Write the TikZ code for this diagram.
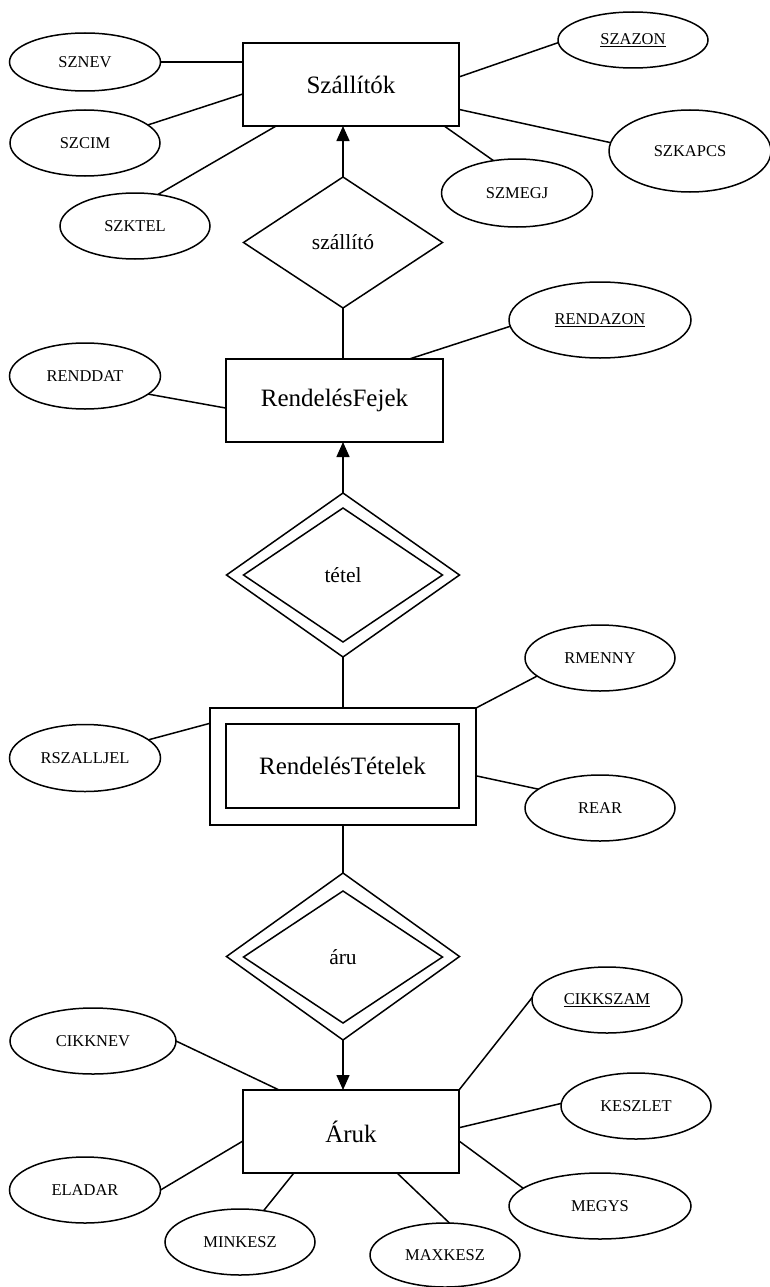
\documentclass[tikz,border=0pt]{standalone}
\usepackage{fontspec}
\setmainfont{Liberation Serif}
\usetikzlibrary{shapes.geometric,arrows.meta}
\begin{document}
\begin{tikzpicture}[x=1pt,y=-1pt,
  every node/.style={inner sep=0pt, outer sep=0pt},
  attr/.style={draw, line width=1.5pt, ellipse, font=\fontsize{16.5}{16.5}\selectfont},
  ent/.style={draw, line width=1.5pt, rectangle, font=\fontsize{25}{25}\selectfont},
  rel/.style={draw, line width=1.5pt, diamond, font=\fontsize{21.5}{21.5}\selectfont},
  conn/.style={line width=1.5pt},
  arr/.style={line width=1.5pt, -{Triangle[length=15pt,width=13pt]}}]
\useasboundingbox (0,0) rectangle (769,1287);

% Entities
\node[ent, minimum width=216, minimum height=83] (szallitok) at (351,84.5) {Szállítók};
\node[ent, minimum width=217, minimum height=83] (fejek) at (334.5,400.5) {RendelésFejek};
\node[ent, minimum width=266, minimum height=117] (tetelek) at (343,766.5) {};
\node[ent, minimum width=233, minimum height=84] (tetelekin) at (342.5,766) {RendelésTételek};
\node[ent, minimum width=216, minimum height=83] (aruk) at (351,1131.5) {Áruk};

% Relationships
\node[rel, minimum width=199, minimum height=131] (szallito) at (343,242.5) {szállító};
\node[rel, minimum width=233, minimum height=164] (tetel) at (343,575) {};
\node[rel, minimum width=199, minimum height=134] (tetelin) at (343,575) {tétel};
\node[rel, minimum width=233, minimum height=167] (aru) at (343,956.5) {};
\node[rel, minimum width=199, minimum height=132] (aruin) at (343,957) {áru};

% Attributes of Szállítók
\node[attr, minimum width=151, minimum height=58] (sznev) at (85,62) {SZNEV};
\node[attr, minimum width=150, minimum height=66] (szcim) at (85,143) {SZCIM};
\node[attr, minimum width=150, minimum height=66] (szktel) at (135,226) {SZKTEL};
\node[attr, minimum width=150, minimum height=56] (szazon) at (633,40) {\underline{SZAZON}};
\node[attr, minimum width=162, minimum height=82] (szkapcs) at (690,151) {SZKAPCS};
\node[attr, minimum width=151, minimum height=68] (szmegj) at (517,193) {SZMEGJ};

% Attributes of RendelésFejek
\node[attr, minimum width=151, minimum height=66] (renddat) at (85,376) {RENDDAT};
\node[attr, minimum width=182, minimum height=76] (rendazon) at (600,320) {\underline{RENDAZON}};

% Attributes of RendelésTételek
\node[attr, minimum width=151, minimum height=67] (rszalljel) at (85,758) {RSZALLJEL};
\node[attr, minimum width=150, minimum height=66] (rmenny) at (600,658) {RMENNY};
\node[attr, minimum width=150, minimum height=66] (rear) at (600,808) {REAR};

% Attributes of Áruk
\node[attr, minimum width=166, minimum height=66] (cikknev) at (93,1041) {CIKKNEV};
\node[attr, minimum width=150, minimum height=66] (cikkszam) at (607,1000) {\underline{CIKKSZAM}};
\node[attr, minimum width=150, minimum height=66] (keszlet) at (636,1106) {KESZLET};
\node[attr, minimum width=151, minimum height=66] (eladar) at (85,1190) {ELADAR};
\node[attr, minimum width=150, minimum height=66] (minkesz) at (240,1242) {MINKESZ};
\node[attr, minimum width=150, minimum height=64] (maxkesz) at (445,1255) {MAXKESZ};
\node[attr, minimum width=182, minimum height=66] (megys) at (600,1206) {MEGYS};

% Relationship connectors
\draw[arr] (szallito.north) -- (szallito.north |- szallitok.south);
\draw[conn] (szallito.south) -- (szallito.south |- fejek.north);
\draw[arr] (tetel.north) -- (tetel.north |- fejek.south);
\draw[conn] (tetel.south) -- (tetel.south |- tetelek.north);
\draw[conn] (tetelek.south) -- (aru.north);
\draw[arr] (aru.south) -- (aru.south |- aruk.north);

% Attribute connectors
\draw[conn] (sznev.east) -- (sznev.east -| szallitok.west);
\draw[conn] (szcim.16) -- (szallitok.185);
\draw[conn] (szktel.54) -- (szallitok.209);
\draw[conn] (szmegj.126) -- (szallitok.336);
\draw[conn] (szkapcs.174) -- (szallitok.347);
\draw[conn] (szazon.182) -- (szallitok.4.5);

\draw[conn] (renddat.344) -- (fejek.184);
\draw[conn] (rendazon.184) -- (fejek.29);

\draw[conn] (rszalljel.16) -- (tetelek.162.7);
\draw[conn] (rmenny.196) -- (tetelek.north east);
\draw[conn] (rear.163) -- (tetelek.356.3);

\draw[conn] (cikknev.east) -- (aruk.150.7);
\draw[conn] (cikkszam.178) -- (aruk.north east);
\draw[conn] (keszlet.178) -- (aruk.2.9);
\draw[conn] (eladar.east) -- (aruk.185.6);
\draw[conn] (minkesz.53) -- (aruk.216.2);
\draw[conn] (maxkesz.82) -- (aruk.318.1);
\draw[conn] (megys.167.6) -- (aruk.355);
\end{tikzpicture}
\end{document}
